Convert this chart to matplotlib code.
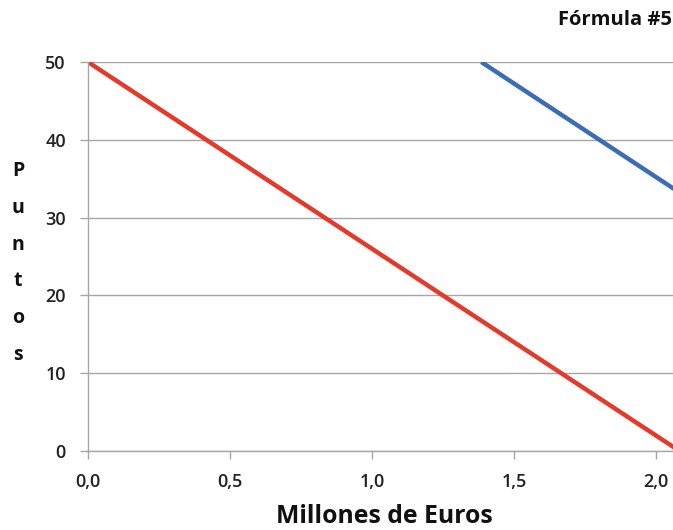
import matplotlib.pyplot as plt

plt.rcParams['font.family'] = ['Open Sans', 'DejaVu Sans']

# data
red_x = [0.0, 2.083]
red_y = [50, 0]
blue_x = [1.385, 2.4]
blue_y = [50, 25.6]

x_ticks = [0.0, 0.5, 1.0, 1.5, 2.0]
x_labels = ['0,0', '0,5', '1,0', '1,5', '2,0']
y_ticks = [0, 10, 20, 30, 40, 50]

grid_col = '#a6a6a6'

fig = plt.figure(figsize=(6.73, 5.30), dpi=100)
ax = fig.add_axes([88 / 673, 1 - 451 / 530, 1 - 88 / 673, (451 - 62) / 530])

ax.plot(red_x, red_y, color='#e33a2b', lw=3.2, solid_capstyle='butt')
ax.plot(blue_x, blue_y, color='#3a6db5', lw=3.2, solid_capstyle='butt')

ax.set_xlim(0, 2.06)
ax.set_ylim(0, 50)
ax.set_xticks(x_ticks)
ax.set_xticklabels(x_labels)
ax.set_yticks(y_ticks)

ax.yaxis.grid(True, color=grid_col, lw=1)
ax.set_axisbelow(True)
for s in ['top', 'right']:
    ax.spines[s].set_visible(False)
for s in ['left', 'bottom']:
    ax.spines[s].set_color(grid_col)
    ax.spines[s].set_linewidth(1)

ax.tick_params(axis='both', colors=grid_col, length=6, width=1, labelsize=13,
               labelcolor='#222222')
ax.tick_params(axis='x', pad=10)
ax.tick_params(axis='y', pad=10)
for lab in ax.get_xticklabels() + ax.get_yticklabels():
    lab.set_fontweight('semibold')

fig.text(384 / 673, 1 - 523 / 530, 'Millones de Euros', fontsize=17.8, fontweight='bold',
         ha='center', va='baseline', color='#111111')
fig.text(18 / 673, 1 - 263 / 530, 'P\nu\nn\nt\no\ns', fontsize=14, fontweight='bold',
         ha='center', va='center', linespacing=2.13, color='#111111')
fig.text(672 / 673, 1 - 20 / 530, 'Fórmula #5', fontsize=14.5, fontweight='bold',
         ha='right', va='center', color='#111111')

fig.savefig('out.png', dpi=100)
